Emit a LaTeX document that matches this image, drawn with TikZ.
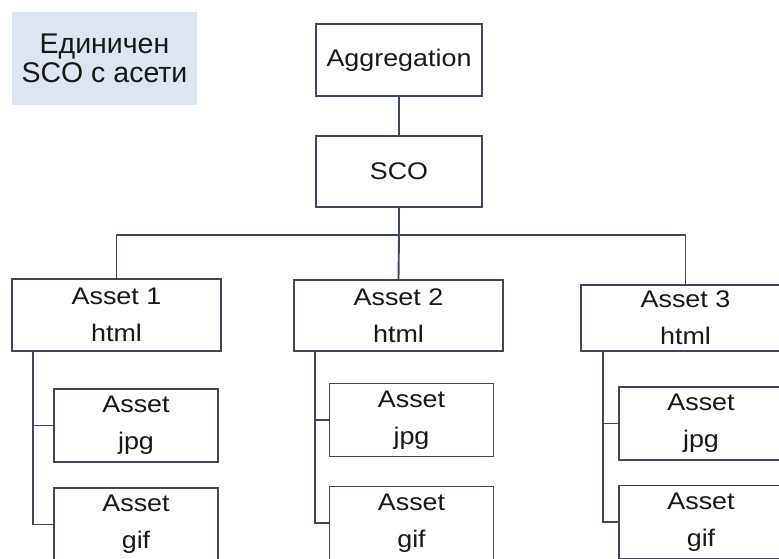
\documentclass[tikz,border=0pt]{standalone}
\usepackage{fontspec}
\setmainfont{Liberation Sans}
\newfontfamily\boxfont{Liberation Sans}[FakeStretch=1.12]
\usetikzlibrary{positioning}
\definecolor{edge}{RGB}{64,72,88}
\definecolor{notefill}{RGB}{221,229,240}
\definecolor{ink}{RGB}{24,24,24}

\begin{document}
\begin{tikzpicture}[x=1pt,y=-1pt,
  box/.style={draw=edge,line width=1.8pt,fill=white,text=ink,inner sep=0pt,align=center,
    font=\boxfont\fontsize{24}{37}\selectfont},
  link/.style={draw=edge,line width=1.9pt}]
  \clip (0,0) rectangle (779,559);
  \fill[white] (0,0) rectangle (779,559);
  % note in the corner
  \node[fill=notefill,text=ink,align=center,inner sep=2pt,minimum width=185pt,minimum height=93pt,
    font=\fontsize{28.5}{28.5}\selectfont] (note) at (104.5,58.5) {Единичен\\SCO с асети};
  % top of the tree
  \node[box,minimum width=166pt,minimum height=72pt] (agg) at (399,60) {Aggregation};
  \node[box,minimum width=166pt,minimum height=71pt] (sco) at (399,171.5) {SCO};
  \draw[link] (agg) -- (sco);
  \node[box,minimum width=209pt,minimum height=72pt] (a1) at (116.5,315) {Asset 1\\html};
  \node[box,minimum width=209pt,minimum height=71pt] (a2) at (398.5,315.5) {Asset 2\\html};
  \node[box,minimum width=209pt,minimum height=66pt] (a3) at (685.5,318) {Asset 3\\html};
  \draw[link] (sco.south) -- ++(0,27) coordinate (bus);
  \draw[link] (a1.north) |- (bus) -| (a3.north);
  \draw[link] (bus) -- (a2.north);
  % assets under each html page
  \foreach \n/\sx/\cx/\jy/\gy in {1/33/136/425.5/524.5, 2/315/411.5/420/523, 3/603/701/423.5/522} {
    \node[box,minimum width=164pt,minimum height=73pt] (jpg\n) at (\cx,\jy) {Asset\\jpg};
    \node[box,minimum width=164pt,minimum height=73pt] (gif\n) at (\cx,\gy) {Asset\\gif};
    \draw[link] (a\n.south -| \sx,0) |- (jpg\n.west);
    \draw[link] (a\n.south -| \sx,0) |- (gif\n.west);
  }
\end{tikzpicture}
\end{document}
